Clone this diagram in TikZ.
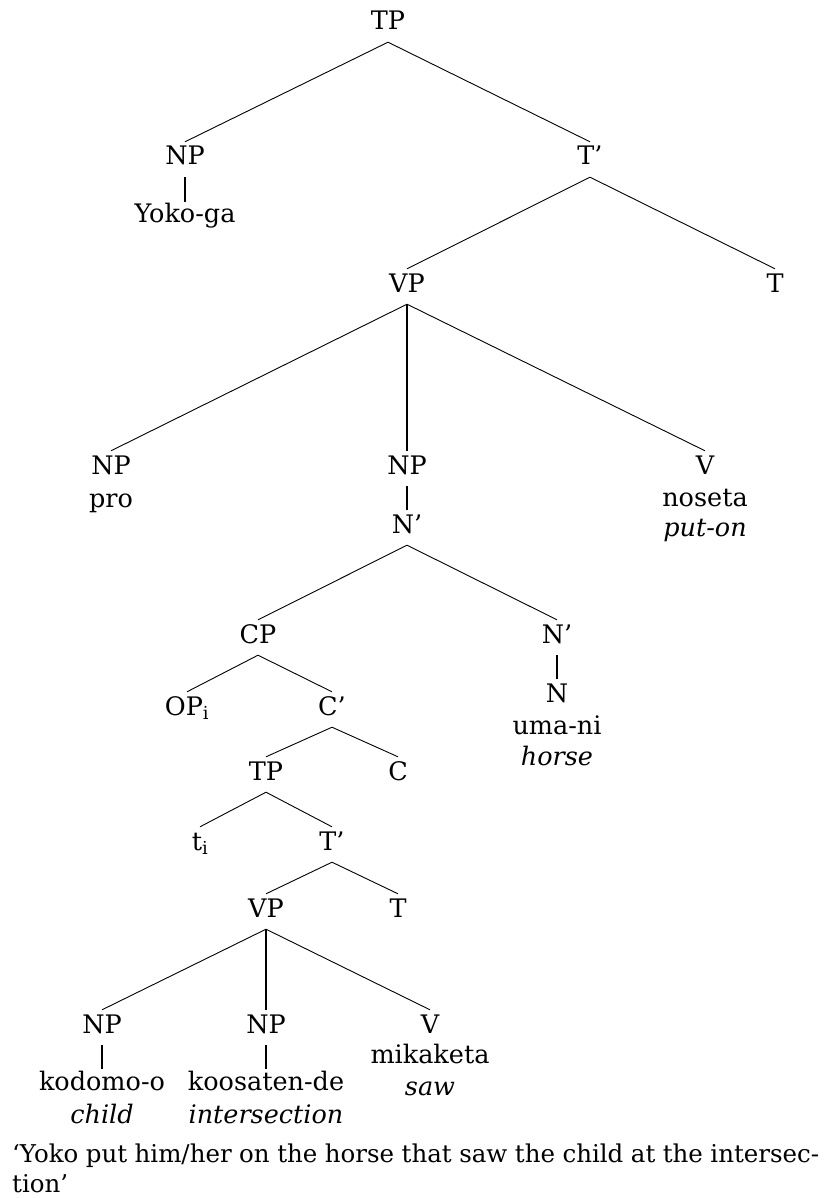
\documentclass[tikz,border=0pt]{standalone}
\usepackage{fontspec}
\setmainfont{DejaVu Serif}
\usepackage{tikz}

\begin{document}
\begin{tikzpicture}[x=1pt, y=-1pt,
    lbl/.style={inner sep=0pt, anchor=base, text height=23pt, text depth=12pt,
                font=\fontsize{25.5}{31}\selectfont},
    word/.style={lbl, text height=21pt},
    gloss/.style={word, font=\fontsize{25.5}{31}\selectfont\itshape},
    branch/.style={line width=0.9pt},
    stem/.style={line width=2pt}]
    \useasboundingbox (0, 0) rectangle (831, 1198);

    % nodes: matrix clause
    \node[lbl] (tp) at (388, 30) {TP};
    \node[lbl] (np) at (185, 165) {NP};
    \node[word] (yoko) at (185, 223) {Yoko-ga};
    \node[lbl] (tbar) at (590, 165) {T’};
    \node[lbl] (vp) at (407, 292) {VP};
    \node[lbl] (t) at (775, 292) {T};
    % nodes: VP daughters
    \node[lbl] (npsubj) at (111, 474) {NP};
    \node[word] (pro) at (111, 507) {pro};
    \node[lbl] (npobj) at (407, 474) {NP};
    \node[lbl] (v) at (705, 474) {V};
    \node[word] (noseta) at (705, 506) {noseta};
    \node[gloss] (puton) at (705, 536) {put-on};
    \node[lbl] (nbar) at (407, 533) {N’};
    % nodes: relative clause and head noun
    \node[lbl] (cp) at (258, 643) {CP};
    \node[lbl] (nbarb) at (557, 643) {N’};
    \node[lbl] (n) at (557, 702) {N};
    \node[word] (uma) at (557, 734) {uma-ni};
    \node[gloss] (horse) at (557, 765) {horse};
    \node[lbl] (op) at (187, 715) {OP\textsubscript{i}};
    \node[lbl] (cbar) at (332, 715) {C’};
    \node[lbl] (tpb) at (266, 780) {TP};
    \node[lbl] (c) at (398, 780) {C};
    \node[lbl] (trace) at (200, 850) {t\textsubscript{i}};
    \node[lbl] (tbarb) at (332, 850) {T’};
    \node[lbl] (vpb) at (266, 917) {VP};
    \node[lbl] (tb) at (398, 917) {T};
    % nodes: embedded VP daughters
    \node[lbl] (npchild) at (102, 1033) {NP};
    \node[lbl] (nploc) at (266, 1033) {NP};
    \node[lbl] (vb) at (430, 1033) {V};
    \node[word] (kodomo) at (102, 1090) {kodomo-o};
    \node[gloss] (child) at (102, 1123) {child};
    \node[word] (koosaten) at (266, 1090) {koosaten-de};
    \node[gloss] (inter) at (266, 1123) {intersection};
    \node[word] (mikaketa) at (430, 1063) {mikaketa};
    \node[gloss] (saw) at (430, 1095) {saw};

    % edges: matrix clause
    \draw[branch] (tp.south) -- (np.north);
    \draw[branch] (tp.south) -- (tbar.north);
    \draw[stem] (np.south) -- (yoko.north);
    \draw[branch] (tbar.south) -- (vp.north);
    \draw[branch] (tbar.south) -- (t.north);
    \draw[branch] (vp.south) -- (npsubj.north);
    \draw[stem] (vp.south) -- (npobj.north);
    \draw[branch] (vp.south) -- (v.north);
    \draw[stem] (npobj.south) -- (nbar.north);
    % edges: relative clause
    \draw[branch] (nbar.south) -- (cp.north);
    \draw[branch] (nbar.south) -- (nbarb.north);
    \draw[stem] (nbarb.south) -- (n.north);
    \draw[branch] (cp.south) -- (op.north);
    \draw[branch] (cp.south) -- (cbar.north);
    \draw[branch] (cbar.south) -- (tpb.north);
    \draw[branch] (cbar.south) -- (c.north);
    \draw[branch] (tpb.south) -- (trace.north);
    \draw[branch] (tpb.south) -- (tbarb.north);
    \draw[branch] (tbarb.south) -- (vpb.north);
    \draw[branch] (tbarb.south) -- (tb.north);
    \draw[branch] (vpb.south) -- (npchild.north);
    \draw[stem] (vpb.south) -- (nploc.north);
    \draw[branch] (vpb.south) -- (vb.north);
    \draw[stem] (npchild.south) -- (kodomo.north);
    \draw[stem] (nploc.south) -- (koosaten.north);

    % translation
    \node[inner sep=0pt, anchor=base west, font=\fontsize{24.5}{30}\selectfont] (trans) at (12, 1162)
        {\makebox[807pt][s]{‘Yoko put him/her on the horse that saw the child at the intersec-}};
    \node[inner sep=0pt, anchor=base west, font=\fontsize{24.5}{30}\selectfont] (transend) at (12, 1192) {tion’};
\end{tikzpicture}
\end{document}
